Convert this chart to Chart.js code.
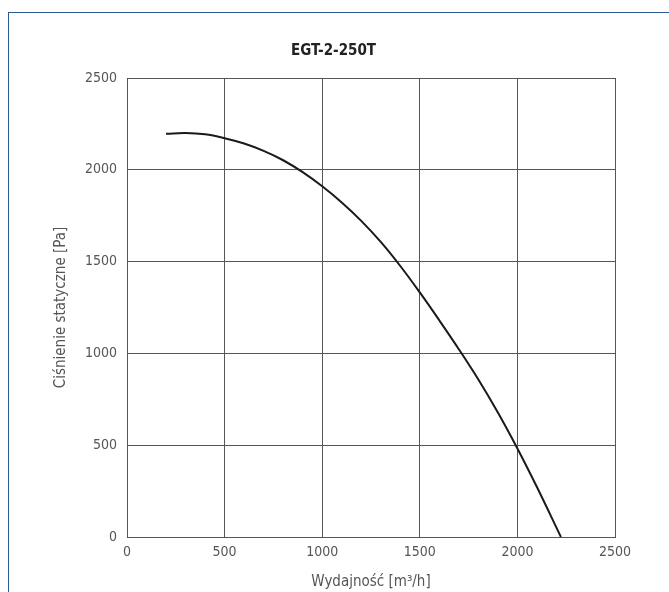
<!DOCTYPE html>
<html>
<head>
<meta charset="utf-8">
<script src="https://cdn.jsdelivr.net/npm/chart.js@4.4.0/dist/chart.umd.min.js"></script>
<style>
html,body{margin:0;padding:0;background:#fff;overflow:hidden;}
#frame{position:absolute;left:8px;top:12px;width:800px;height:800px;border:1.5px solid #2a5a96;box-sizing:border-box;}
#wrap{position:absolute;left:0;top:0;width:669px;height:592px;}
</style>
</head>
<body>
<div id="frame"></div>
<div id="wrap"><canvas id="c" width="669" height="592"></canvas></div>
<script>
const chartTitle = "EGT-2-250T";
const xAxisTitle = "Wydajność [m³/h]";
const yAxisTitle = "Ciśnienie statyczne [Pa]";
const xTicks = [0, 500, 1000, 1500, 2000, 2500];
const yTicks = [0, 500, 1000, 1500, 2000, 2500];
const flow =     [200, 300, 400, 500, 600, 700, 800, 900, 1000, 1100, 1200, 1300, 1400, 1500, 1600, 1700, 1800, 1900, 2000, 2100, 2223];
const pressure = [2196, 2200, 2193, 2172, 2143, 2103, 2052, 1987, 1910, 1822, 1722, 1607, 1476, 1332, 1180, 1023, 858, 678, 482, 272, 0];

const FONT = "'DejaVu Sans Condensed', 'Liberation Sans Narrow', Roboto, sans-serif";
const pts = flow.map((x, i) => ({x: x, y: pressure[i]}));

new Chart(document.getElementById('c'), {
  type: 'scatter',
  data: { datasets: [{
    data: pts, showLine: true, pointRadius: 0, borderColor: '#1a1a1a',
    borderWidth: 2, tension: 0.4, fill: false
  }]},
  options: {
    responsive: false, animation: false,
    layout: { padding: { left: 52, right: 54, top: 0, bottom: 0 } },
    plugins: {
      legend: { display: false }, tooltip: { enabled: false },
      title: { display: true, text: chartTitle, color: '#222',
        font: { family: FONT, size: 15, weight: 'bold' }, padding: { top: 42, bottom: 18 } }
    },
    scales: {
      x: {
        type: 'linear', min: 0, max: 2500,
        afterBuildTicks: s => { s.ticks = xTicks.map(v => ({value: v})); },
        afterFit: s => { s.height = 55; },
        grid: { color: '#555', lineWidth: 1, drawTicks: false },
        border: { color: '#555', width: 1 },
        ticks: { color: '#555', padding: 7, font: { family: FONT, size: 14 }, callback: v => String(v) },
        title: { display: true, text: xAxisTitle, color: '#555', font: { family: FONT, size: 15 }, padding: { top: 0, bottom: 1 } }
      },
      y: {
        type: 'linear', min: 0, max: 2500,
        afterBuildTicks: s => { s.ticks = yTicks.map(v => ({value: v})); },
        afterFit: s => { s.width = 75; },
        grid: { color: '#555', lineWidth: 1, drawTicks: false },
        border: { color: '#555', width: 1 },
        ticks: { color: '#555', padding: 10, font: { family: FONT, size: 14 }, callback: v => String(v) },
        title: { display: true, text: yAxisTitle, color: '#555', font: { family: FONT, size: 15 }, padding: { top: 0, bottom: 0 } }
      }
    }
  }
});
</script>
</body>
</html>
